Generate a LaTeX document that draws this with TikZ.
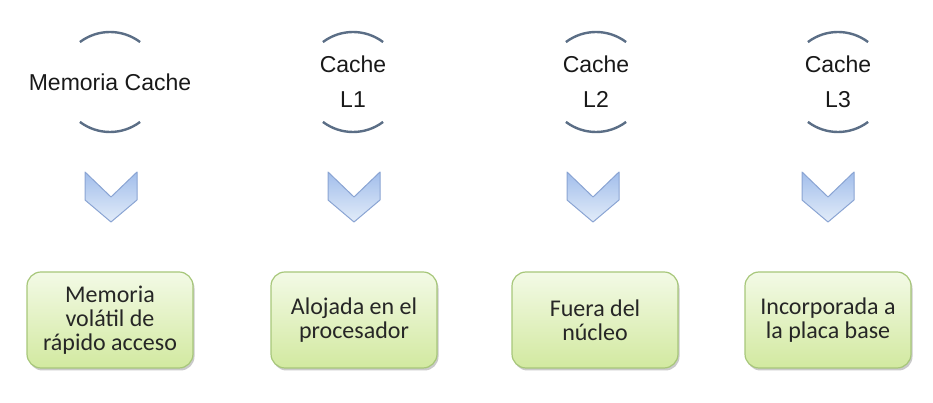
\documentclass[tikz,border=0pt]{standalone}
\usepackage{fontspec}
\setmainfont{Carlito}
\newfontfamily\headfont{Liberation Sans}
\usetikzlibrary{shadows}

\definecolor{arcgray}{HTML}{5B6E86}
\definecolor{chevtop}{HTML}{A2BEEB}
\definecolor{chevbot}{HTML}{E2ECF9}
\definecolor{chevline}{HTML}{8AA4D3}
\definecolor{boxtop}{HTML}{F3FAE6}
\definecolor{boxbot}{HTML}{D2E9A0}
\definecolor{boxline}{HTML}{A7C77A}
\definecolor{txt}{HTML}{262626}

\tikzset{
  head/.style={font=\headfont\fontsize{23}{35}\selectfont, text=black!90, align=center},
  ring/.style={arcgray, line width=2.4pt},
  chevron/.style={draw=chevline, line width=1pt, top color=chevtop, bottom color=chevbot, line join=round},
  infobox/.style={draw=boxline, line width=1.2pt, rounded corners=14pt, top color=boxtop, bottom color=boxbot,
    minimum width=166pt, minimum height=96pt, align=center, text=txt,
    font=\fontsize{24}{24}\selectfont,
    drop shadow={shadow xshift=1.5pt, shadow yshift=-2.5pt, opacity=0.35, fill=black!60}}
}

\begin{document}
\begin{tikzpicture}[x=1pt,y=1pt]
    \useasboundingbox (0,0) rectangle (933,403);
    \node[head] (mc) at (110,321) {Memoria Cache};
    \node[head] (l1) at (353,321) {Cache\\L1};
    \node[head] (l2) at (596,321) {Cache\\L2};
    \node[head] (l3) at (838,321) {Cache\\L3};
    \draw[ring] ([shift={(127:50)}]mc.center) arc (127:53:50);
    \draw[ring] ([shift={(233:50)}]mc.center) arc (233:307:50);
    \draw[ring] ([shift={(127:50)}]l1.center) arc (127:53:50);
    \draw[ring] ([shift={(233:50)}]l1.center) arc (233:307:50);
    \draw[ring] ([shift={(127:50)}]l2.center) arc (127:53:50);
    \draw[ring] ([shift={(233:50)}]l2.center) arc (233:307:50);
    \draw[ring] ([shift={(127:50)}]l3.center) arc (127:53:50);
    \draw[ring] ([shift={(233:50)}]l3.center) arc (233:307:50);
    \draw[chevron,shift={(111,206)}] (-26,25)--(0,0)--(26,25)--(26,-3)--(0,-25)--(-26,-3)--cycle;
    \draw[chevron,shift={(354,206)}] (-26,25)--(0,0)--(26,25)--(26,-3)--(0,-25)--(-26,-3)--cycle;
    \draw[chevron,shift={(593,206)}] (-26,25)--(0,0)--(26,25)--(26,-3)--(0,-25)--(-26,-3)--cycle;
    \draw[chevron,shift={(828,206)}] (-26,25)--(0,0)--(26,25)--(26,-3)--(0,-25)--(-26,-3)--cycle;
    \node[infobox] (d0) at (110,83) {Memoria\\volátil de\\rápido acceso};
    \node[infobox] (d1) at (354,83) {Alojada en el\\procesador};
    \node[infobox] (d2) at (595,83) {Fuera del\\núcleo};
    \node[infobox] (d3) at (828,83) {Incorporada a\\la placa base};
\end{tikzpicture}
\end{document}
